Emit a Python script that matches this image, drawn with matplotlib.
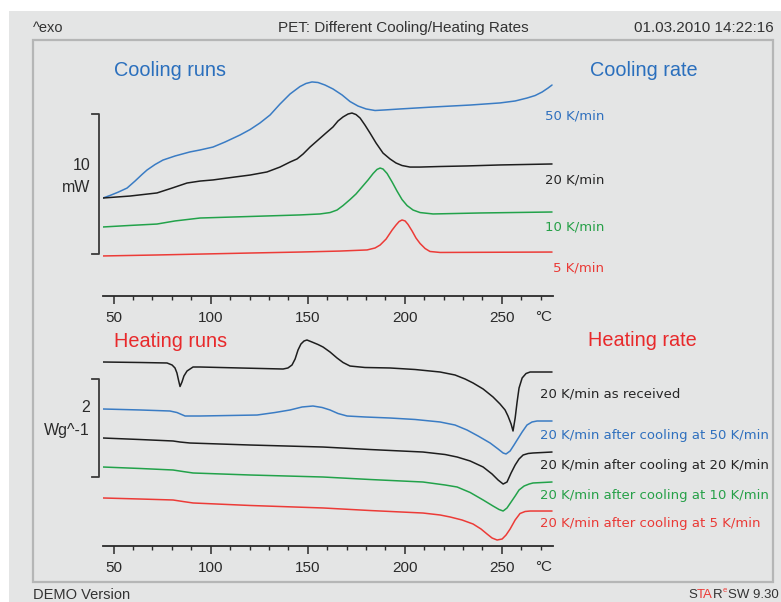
import matplotlib
matplotlib.use("Agg")
import matplotlib.pyplot as plt
import matplotlib.transforms as mtransforms
from matplotlib.patches import Rectangle
from matplotlib.lines import Line2D
from matplotlib.text import Annotation

# ---------------- cooling runs: temperature (°C) and heat flow (mW), curves offset vertically
cool_50_T = [44.5, 48.1, 52.2, 56.9, 61.0, 64.6, 67.2, 71.3, 75.4, 81.6, 89.3, 94.5, 101.2,
             107.4, 115.1, 120.3, 125.4, 130.6, 135.7, 140.9, 146.0, 149.1, 152.2, 155.3,
             158.9, 163.0, 167.7, 171.8, 175.9, 180.1, 184.7, 189.8, 197.6, 214.6, 233.7,
             249.1, 256.9, 263.0, 267.2, 270.8, 273.9, 275.9]
cool_50_Q = [7.00, 7.18, 7.41, 7.71, 8.21, 8.68, 9.00, 9.39, 9.71, 10.00, 10.29, 10.43, 10.64,
             11.00, 11.50, 11.89, 12.36, 12.93, 13.71, 14.43, 14.96, 15.18, 15.29, 15.25,
             15.07, 14.79, 14.36, 13.89, 13.57, 13.36, 13.25, 13.29, 13.36, 13.50, 13.64,
             13.79, 13.93, 14.14, 14.32, 14.57, 14.86, 15.07]

cool_20_T = [44.5, 58.4, 72.3, 80.1, 87.8, 94.5, 101.2, 112.5, 120.3, 129.0, 135.7, 140.9,
             144.5, 147.6, 151.2, 155.3, 159.4, 163.0, 165.6, 168.2, 170.8, 172.8, 174.9,
             177.0, 179.5, 182.1, 185.2, 188.8, 192.4, 195.5, 198.6, 202.7, 207.9, 218.2,
             232.1, 249.1, 275.9]
cool_20_Q = [7.00, 7.14, 7.36, 7.71, 8.07, 8.21, 8.29, 8.50, 8.64, 8.86, 9.21, 9.57,
             9.79, 10.14, 10.64, 11.14, 11.64, 12.07, 12.50, 12.79, 13.00, 13.07, 12.96,
             12.71, 12.21, 11.64, 10.93, 10.21, 9.79, 9.50, 9.32, 9.21, 9.21, 9.25,
             9.29, 9.36, 9.43]

cool_10_T = [44.5, 58.4, 72.3, 81.6, 94.5, 120.3, 146.0, 156.3, 161.5, 165.1, 168.2, 171.8,
             174.9, 178.0, 181.1, 183.7, 185.7, 187.3, 188.8, 190.9, 193.5, 196.0, 198.6,
             201.2, 204.3, 207.9, 214.6, 238.8, 275.9]
cool_10_Q = [4.93, 5.04, 5.14, 5.36, 5.57, 5.68, 5.79, 5.86, 5.96, 6.14, 6.46, 6.89,
             7.29, 7.79, 8.29, 8.75, 9.04, 9.14, 9.07, 8.75, 8.14, 7.50, 6.89,
             6.46, 6.14, 5.96, 5.86, 5.93, 6.00]

cool_5_T = [44.5, 72.3, 120.3, 146.0, 166.6, 180.6, 184.7, 187.3, 190.4, 193.5, 195.5, 197.1,
            198.6, 200.2, 201.7, 203.8, 205.8, 207.9, 210.5, 213.0, 218.2, 275.9]
cool_5_Q = [2.86, 2.93, 3.07, 3.14, 3.21, 3.29, 3.43, 3.64, 4.07, 4.71, 5.07, 5.32,
            5.43, 5.36, 5.11, 4.64, 4.14, 3.75, 3.39, 3.18, 3.11, 3.14]

cool_labels = ["50 K/min", "20 K/min", "10 K/min", "5 K/min"]

# ---------------- heating runs: temperature (°C) and specific heat flow (W/g), offset curves
heat_rec_T = [44.5, 63.6, 77.5, 80.1, 81.6, 82.6, 83.4, 84.2, 85.2, 86.2, 87.8, 90.9, 94.5,
              115.1, 137.3, 139.8, 141.9, 143.5, 145.0, 146.5, 148.1, 149.6, 152.2, 155.3,
              157.9, 161.5, 165.1, 168.2, 171.8, 179.5, 192.4, 205.3, 218.2, 225.9, 231.1,
              235.2, 240.4, 245.5, 249.1, 251.7, 253.2, 254.8, 255.8, 256.9, 257.9, 258.9,
              260.5, 262.5, 264.6, 275.9]
heat_rec_Q = [3.755, 3.745, 3.735, 3.694, 3.633, 3.531, 3.388, 3.255, 3.347, 3.469, 3.571,
              3.653, 3.653, 3.633, 3.612, 3.633, 3.694, 3.816, 4.000, 4.122, 4.184, 4.204,
              4.163, 4.112, 4.061, 3.959, 3.837, 3.745, 3.673, 3.643, 3.633, 3.602, 3.551,
              3.490, 3.408, 3.327, 3.204, 3.041, 2.898, 2.776, 2.653, 2.490, 2.347, 2.612,
              2.939, 3.224, 3.429, 3.520, 3.551, 3.551]

heat_50_T = [44.5, 63.6, 79.0, 82.6, 86.8, 94.5, 123.9, 133.1, 140.9, 147.1, 152.7, 157.4,
             161.5, 165.6, 170.3, 179.5, 192.4, 205.3, 218.2, 225.9, 232.1, 237.8, 244.0,
             248.1, 250.7, 252.2, 254.3, 256.3, 257.9, 260.5, 263.0, 265.6, 268.2, 275.9]
heat_50_Q = [2.796, 2.776, 2.755, 2.724, 2.653, 2.653, 2.673, 2.724, 2.776, 2.837, 2.857, 2.827,
             2.776, 2.704, 2.653, 2.633, 2.612, 2.582, 2.531, 2.469, 2.367, 2.245, 2.102,
             1.980, 1.898, 1.878, 1.939, 2.061, 2.163, 2.327, 2.469, 2.531, 2.551, 2.551]

heat_20_T = [44.5, 63.6, 80.6, 84.2, 89.3, 120.3, 157.9, 182.1, 209.4, 220.8, 227.0, 233.7,
             240.4, 245.0, 248.1, 250.7, 252.7, 254.8, 256.9, 258.9, 261.0, 263.6, 266.1, 275.9]
heat_20_Q = [2.204, 2.173, 2.143, 2.122, 2.102, 2.061, 2.020, 1.969, 1.918, 1.867, 1.816, 1.735,
             1.612, 1.469, 1.347, 1.265, 1.306, 1.490, 1.653, 1.776, 1.857, 1.888, 1.898, 1.918]

heat_10_T = [44.5, 63.6, 80.6, 85.7, 90.9, 120.3, 157.9, 182.1, 209.4, 220.8, 227.0, 233.7,
             240.4, 245.5, 248.6, 250.7, 252.7, 254.8, 256.9, 258.9, 261.5, 264.1, 266.1, 275.9]
heat_10_Q = [1.612, 1.582, 1.551, 1.520, 1.490, 1.449, 1.408, 1.357, 1.306, 1.245, 1.204, 1.092,
             0.939, 0.816, 0.745, 0.714, 0.776, 0.898, 1.020, 1.143, 1.224, 1.265, 1.286, 1.306]

heat_5_T = [44.5, 63.6, 80.6, 85.7, 90.9, 120.3, 157.9, 182.1, 209.4, 218.2, 223.4, 229.5,
            235.2, 239.3, 242.4, 245.0, 247.6, 250.2, 252.2, 254.3, 256.9, 259.4, 262.0,
            264.6, 275.9]
heat_5_Q = [0.980, 0.959, 0.939, 0.908, 0.878, 0.827, 0.776, 0.724, 0.673, 0.633, 0.592, 0.531,
            0.449, 0.347, 0.245, 0.163, 0.122, 0.143, 0.224, 0.347, 0.531, 0.663, 0.704,
            0.714, 0.714]

heat_labels = ["20 K/min as received",
               "20 K/min after cooling at 50 K/min",
               "20 K/min after cooling at 20 K/min",
               "20 K/min after cooling at 10 K/min",
               "20 K/min after cooling at 5 K/min"]

major_ticks = [50, 100, 150, 200, 250]
minor_ticks = list(range(50, 280, 10))
x_range = (44.5, 276.4)

# ---------------- style
BLUE, BLACK, GREEN, RED = "#3a7cc4", "#1e1e1e", "#22a24a", "#ec3b37"
TXT = "#333333"
BG = "#e4e5e5"
SANS = ["Liberation Sans", "DejaVu Sans"]
LABEL_FONT = ["DejaVu Sans"]

W, H = 781, 602
fig = plt.figure(figsize=(W / 100, H / 100), dpi=100, facecolor="white")


def fx(x):
    return x / W


def fy(y):
    return 1 - y / H


# page background and inner frame (kept behind the axes)
fig.patches.append(Rectangle((fx(9), 0), 1 - fx(9), fy(11), transform=fig.transFigure,
                             facecolor=BG, edgecolor="none", zorder=-2))
fig.patches.append(Rectangle((fx(33), fy(582)), fx(773) - fx(33), fy(40) - fy(582),
                             transform=fig.transFigure, facecolor=BG,
                             edgecolor="#b5b6b6", linewidth=1.6, zorder=-1))

# header
fig.text(fx(33), fy(28), "^exo", fontsize=10.5, color=TXT, family=SANS, va="center", ha="left")
fig.text(fx(403), fy(28), "PET: Different Cooling/Heating Rates", fontsize=11, color=TXT,
         family=SANS, va="center", ha="center")
fig.text(fx(774), fy(28), "01.03.2010 14:22:16", fontsize=11, color=TXT, family=SANS,
         va="center", ha="right")

# footer
fig.text(fx(33), fy(595), "DEMO Version", fontsize=10.5, color=TXT, family=SANS,
         va="center", ha="left")
ann_s = fig.text(fx(688), fy(595), "S", fontsize=9.5, color=TXT, family=SANS,
                 va="center", ha="left")
ann_ta = fig.add_artist(Annotation("TA", xy=(1, 0), xycoords=ann_s, va="bottom", ha="left",
                                   fontsize=9.5, color=RED, family=SANS))
ann_r = fig.add_artist(Annotation("R", xy=(1, 0), xycoords=ann_ta, va="bottom", ha="left",
                                  fontsize=9.5, color=TXT, family=SANS))
ann_e = fig.add_artist(Annotation("e", xy=(1, 0.55), xycoords=ann_r, va="bottom", ha="left",
                                  fontsize=5.5, color=RED, family=SANS))
fig.add_artist(Annotation("SW 9.30", xy=(1, 0), xycoords=ann_r, xytext=(4, 0),
                          textcoords="offset points", va="bottom", ha="left",
                          fontsize=9.5, color=TXT, family=SANS))


def style_axis(ax, ymax):
    ax.set_facecolor("none")
    ax.set_xlim(*x_range)
    ax.set_ylim(0, ymax)
    for s in ("left", "right", "top"):
        ax.spines[s].set_visible(False)
    ax.spines["bottom"].set_color("#2a2a2a")
    ax.spines["bottom"].set_linewidth(1.3)
    ax.set_yticks([])
    ax.set_xticks(major_ticks)
    ax.set_xticks(minor_ticks, minor=True)
    ax.tick_params(axis="x", which="major", length=5.8, width=1.1, color="#2a2a2a",
                   direction="out", pad=5.0, labelsize=11, labelcolor="#2a2a2a")
    ax.tick_params(axis="x", which="minor", length=3.2, width=1.0, color="#2a2a2a",
                   direction="out")
    for lab in ax.get_xticklabels():
        lab.set_family(SANS)


def scale_bar(ax, y0, y1, top_text, unit_text, text_y):
    tr = mtransforms.blended_transform_factory(ax.transAxes, ax.transData)
    xb = -4 / 450
    xt = -11 / 450
    ax.add_line(Line2D([xt, xb, xb, xt], [y1, y1, y0, y0], transform=tr, color="#3a3a3a",
                       linewidth=1.3, clip_on=False))
    fig.text(fx(90), fy(text_y[0]), top_text, fontsize=11.5, color="#2a2a2a", family=SANS,
             ha="right", va="center")
    fig.text(fx(90), fy(text_y[1]), unit_text, fontsize=11.5, color="#2a2a2a", family=SANS,
             ha="right", va="center")


line_kw = dict(lw=1.1, solid_joinstyle="round", solid_capstyle="round")

# ---------------- cooling runs
ax1 = fig.add_axes([fx(103), fy(296), 450 / W, (296 - 60) / H])
style_axis(ax1, (296 - 60) / 14.0)
ax1.plot(cool_50_T, cool_50_Q, color=BLUE, **line_kw)
ax1.plot(cool_20_T, cool_20_Q, color=BLACK, **line_kw)
ax1.plot(cool_10_T, cool_10_Q, color=GREEN, **line_kw)
ax1.plot(cool_5_T, cool_5_Q, color=RED, **line_kw)
scale_bar(ax1, 3.0, 13.0, "10", "mW", (165, 187))
fig.text(fx(552), fy(317), "°C", fontsize=11, color="#2a2a2a", family=SANS,
         ha="right", va="center")

fig.text(fx(114), fy(70), "Cooling runs", fontsize=14.3, color="#2a6fbd", family=SANS,
         ha="left", va="center")
fig.text(fx(698), fy(70), "Cooling rate", fontsize=14.3, color="#2a6fbd", family=SANS,
         ha="right", va="center")
for lab, col, y in zip(cool_labels, ["#2f70be", "#262626", "#26a048", "#ea3a36"],
                       [116, 180, 227, 268]):
    fig.text(fx(604), fy(y), lab, fontsize=9.5, color=col, family=LABEL_FONT,
             ha="right", va="center")

# ---------------- heating runs
ax2 = fig.add_axes([fx(103), fy(546), 450 / W, (546 - 330) / H])
style_axis(ax2, (546 - 330) / 49.0)
ax2.plot(heat_rec_T, heat_rec_Q, color=BLACK, **line_kw)
ax2.plot(heat_50_T, heat_50_Q, color=BLUE, **line_kw)
ax2.plot(heat_20_T, heat_20_Q, color=BLACK, **line_kw)
ax2.plot(heat_10_T, heat_10_Q, color=GREEN, **line_kw)
ax2.plot(heat_5_T, heat_5_Q, color=RED, **line_kw)
scale_bar(ax2, 1.4, 3.4, "2", "Wg^-1", (408, 430))
fig.text(fx(552), fy(567), "°C", fontsize=11, color="#2a2a2a", family=SANS,
         ha="right", va="center")

fig.text(fx(114), fy(342), "Heating runs", fontsize=14.3, color="#e8292b", family=SANS,
         ha="left", va="center")
fig.text(fx(697), fy(340), "Heating rate", fontsize=14.3, color="#e8292b", family=SANS,
         ha="right", va="center")
for lab, col, y in zip(heat_labels, ["#262626", "#2f70be", "#262626", "#26a048", "#ea3a36"],
                       [394, 436, 465, 496, 524]):
    fig.text(fx(540), fy(y), lab, fontsize=9.5, color=col, family=LABEL_FONT,
             ha="left", va="center")

fig.savefig("out.png", dpi=100, facecolor="white")
